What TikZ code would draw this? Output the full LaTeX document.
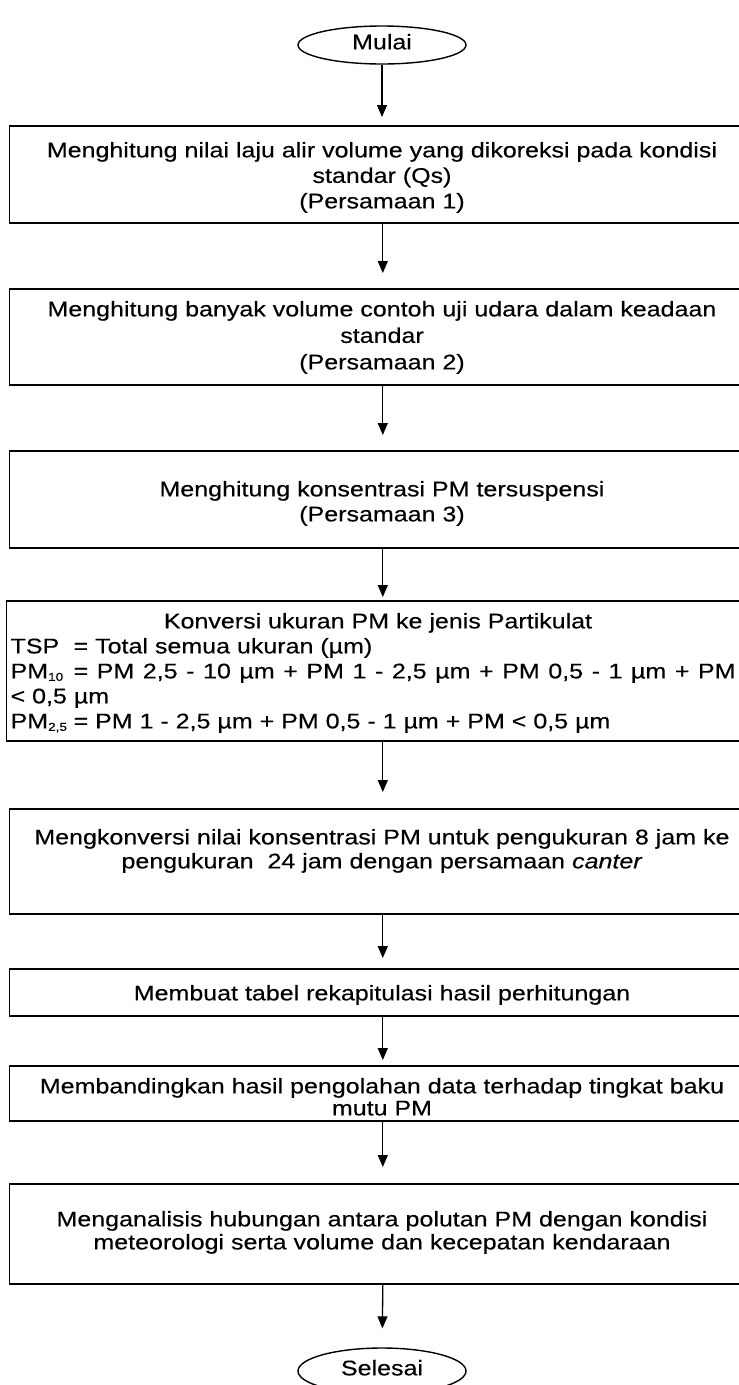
\documentclass[tikz,border=0pt]{standalone}
\usepackage{fontspec}
\setmainfont{Liberation Sans}[FakeStretch=1.18, FakeBold=0.3]
\usetikzlibrary{arrows.meta,shapes.geometric}

% small lowered index used in PM10 and PM2,5
\newcommand{\pmidx}[1]{\raisebox{-2.5pt}{\fontsize{11.5}{12}\selectfont #1}}
% fixed-width label column before the "=" signs
\newcommand{\tabto}[1]{\makebox[63pt][l]{#1}}

\begin{document}
\begin{tikzpicture}[x=1pt,y=-1pt,
  every node/.style={font=\fontsize{21.2}{25.5}\selectfont},
  terminal/.style={draw, line width=1.4pt, ellipse, inner sep=0pt,
    minimum width=168pt, minimum height=38pt, text depth=6.7pt},
  procbox/.style={draw, line width=1.6pt, rectangle, inner sep=0pt, anchor=north west},
  label/.style={inner sep=0pt, align=center, anchor=north},
  flow/.style={line width=1.3pt, -{Triangle[length=12pt,width=10pt]}}
]
\useasboundingbox (0,0) rectangle (739,1385);
\clip (0,0) rectangle (739,1385);

% terminals
\node[terminal] (start) at (382,45) {Mulai};
\node[terminal, minimum height=46pt] (stop) at (382,1371) {Selesai};

% process boxes (right border runs past the page edge)
\node[procbox, minimum width=747pt, minimum height=97pt]  (b1) at (8.5,125) {};
\node[procbox, minimum width=747pt, minimum height=96pt]  (b2) at (8.5,288) {};
\node[procbox, minimum width=747pt, minimum height=97pt]  (b3) at (8.5,450) {};
\node[procbox, minimum width=753pt, minimum height=140pt] (b4) at (5.5,600) {};
\node[procbox, minimum width=747pt, minimum height=105pt] (b5) at (8.5,808) {};
\node[procbox, minimum width=747pt, minimum height=47pt]  (b6) at (8.5,968) {};
\node[procbox, minimum width=747pt, minimum height=55pt]  (b7) at (8.5,1065) {};
\node[procbox, minimum width=747pt, minimum height=100pt] (b8) at (8.5,1183) {};

% box texts
\node[label] (t1) at (382,141.8) {Menghitung nilai laju alir volume yang dikoreksi pada kondisi\\standar (Qs)\\(Persamaan 1)};
\node[label, font=\fontsize{21.2}{26.5}\selectfont] (t2) at (382,300.8) {Menghitung banyak volume contoh uji udara dalam keadaan\\standar\\(Persamaan 2)};
\node[label, font=\fontsize{21.2}{25}\selectfont] (t3) at (382,480.8) {Menghitung konsentrasi PM tersuspensi\\(Persamaan 3)};
\node[label] (t4) at (378,612.8) {Konversi ukuran PM ke jenis Partikulat};
\node[inner sep=0pt, align=left, anchor=north west, font=\fontsize{21.2}{25}\selectfont] (t4b) at (10.4,637.8)
  {\tabto{TSP}= Total semua ukuran (µm)\\
   \makebox[725pt][s]{\tabto{PM\pmidx{10}}= PM 2,5 - 10 µm + PM 1 - 2,5 µm + PM 0,5 - 1 µm + PM}\\
   < 0,5 µm\\
   \tabto{PM\pmidx{2,5}}= PM 1 - 2,5 µm + PM 0,5 - 1 µm + PM < 0,5 µm};
\node[label, font=\fontsize{21.2}{24}\selectfont] (t5) at (382,828.8) {Mengkonversi nilai konsentrasi PM untuk pengukuran 8 jam ke\\pengukuran\ \ 24 jam dengan persamaan \textit{canter}};
\node[label] (t6) at (382,984.8) {Membuat tabel rekapitulasi hasil perhitungan};
\node[label, font=\fontsize{21.2}{22}\selectfont] (t7) at (382,1077.8) {Membandingkan hasil pengolahan data terhadap tingkat baku\\mutu PM};
\node[label, font=\fontsize{21.2}{23}\selectfont] (t8) at (382,1210.8) {Menganalisis hubungan antara polutan PM dengan kondisi\\meteorologi serta volume dan kecepatan kendaraan};

% connectors
\draw[flow, shorten >=8pt]  (start) -- (start |- b1.north);
\draw[flow, shorten >=15pt] (b1.south) -- (b2.north);
\draw[flow, shorten >=15pt] (b2.south) -- (b3.north);
\draw[flow, shorten >=3pt]  (b3.south) -- (b4.north);
\draw[flow, shorten >=16pt] (b4.south) -- (b5.north);
\draw[flow, shorten >=10pt] (b5.south) -- (b6.north);
\draw[flow, shorten >=5pt]  (b6.south) -- (b7.north);
\draw[flow, shorten >=16pt] (b7.south) -- (b8.north);
\draw[flow, shorten >=19pt] (b8.south) -- (stop);
\end{tikzpicture}
\end{document}
